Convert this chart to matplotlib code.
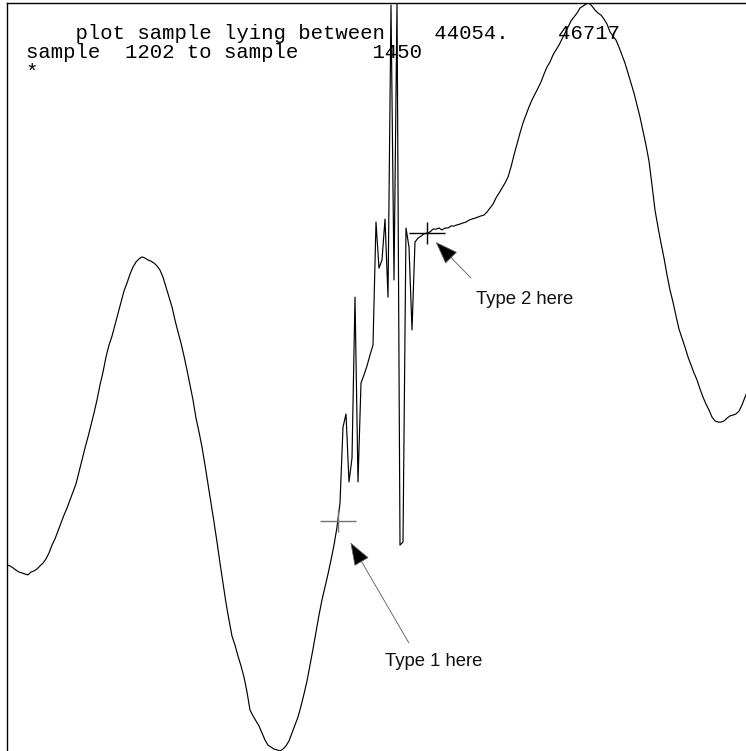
import numpy as np
import matplotlib
matplotlib.use("Agg")
import matplotlib.pyplot as plt

# trace window
first_sample, last_sample = 1202, 1450
lo_val, hi_val = 44054, 46717

# amplitude per sample, starting at sample 1202
amp = np.array([
    44716, 44713, 44706, 44698, 44691, 44688, 44684, 44681, 44691, 44695,
    44702, 44713, 44723, 44738, 44759, 44787, 44809, 44837, 44866, 44894,
    44919, 44948, 44976, 45005, 45047, 45090, 45133, 45172, 45215, 45257,
    45304, 45357, 45403, 45457, 45499, 45531, 45571, 45610, 45652, 45692,
    45720, 45752, 45777, 45795, 45806, 45813, 45809, 45802, 45798, 45791,
    45781, 45766, 45741, 45706, 45670, 45635, 45588, 45546, 45506, 45460,
    45410, 45357, 45304, 45239, 45190, 45136, 45072, 45005, 44937, 44869,
    44798, 44723, 44652, 44581, 44520, 44463, 44431, 44392, 44357, 44317,
    44264, 44200, 44179, 44161, 44143, 44118, 44093, 44075, 44068, 44061,
    44058, 44054, 44061, 44072, 44090, 44118, 44147, 44175, 44214, 44257,
    44303, 44360, 44417, 44478, 44538, 44592, 44638, 44684, 44734, 44787,
    44851, 44937, 45207, 45254, 45012, 45097, 45670, 45012, 45364, 45393,
    45425, 45464, 45499, 45937, 45773, 45802, 45948, 45670, 46710, 45731,
    46717, 44787, 44798, 45916, 45848, 45553, 45866, 45880, 45887, 45895,
    45898, 45902, 45912, 45912, 45916, 45909, 45916, 45916, 45923, 45923,
    45927, 45930, 45934, 45937, 45944, 45948, 45951, 45955, 45959, 45962,
    45973, 45987, 46001, 46023, 46040, 46058, 46076, 46097, 46133, 46176,
    46215, 46254, 46290, 46318, 46347, 46372, 46393, 46414, 46436, 46464,
    46489, 46507, 46532, 46550, 46567, 46589, 46610, 46631, 46653, 46667,
    46681, 46699, 46706, 46713, 46717, 46706, 46692, 46681, 46674, 46660,
    46642, 46614, 46599, 46585, 46560, 46532, 46503, 46468, 46432, 46396,
    46354, 46311, 46261, 46211, 46154, 46069, 45980, 45919, 45862, 45809,
    45749, 45695, 45652, 45603, 45556, 45524, 45492, 45457, 45428, 45400,
    45375, 45343, 45314, 45289, 45268, 45243, 45229, 45225, 45225, 45229,
    45239, 45247, 45250, 45254, 45264, 45286, 45314, 45339,
])
samples = np.arange(first_sample, first_sample + len(amp))

# picked points (type 1, type 2)
pick_sample = [1312.3, 1342.0]
pick_value = [44873, 45898]
pick_label = ["Type 1 here", "Type 2 here"]

W, H = 746, 751
fig = plt.figure(figsize=(W / 100, H / 100), dpi=100)
ax = fig.add_axes([7 / W, 0, 739 / W, 748 / H])
ax.set_xlim(first_sample, first_sample + 739 / 3)
ax.set_ylim(lo_val, hi_val)
ax.set_xticks([])
ax.set_yticks([])
for side in ("right", "bottom"):
    ax.spines[side].set_visible(False)
for side in ("left", "top"):
    ax.spines[side].set_linewidth(1.0)

ax.plot(samples, amp, color="black", lw=0.85)

# cursor crosses
cross_col = ["0.45", "black"]
for s, v, c in zip(pick_sample, pick_value, cross_col):
    ax.plot(s, v, marker="_", ms=26, mew=1.0, color=c)
    ax.plot(s, v, marker="|", ms=16.5, mew=1.0, color=c)

# arrows + labels (offsets in points from the cross)
tails = [(51.1, -87.8), (31.7, -32.4)]
shrink = [18, 9]
label_pos = [(69.1, -101.5), (70.6, -47.5)]
for s, v, lab, t, sb, lp in zip(pick_sample, pick_value, pick_label, tails, shrink, label_pos):
    ax.annotate("", xy=(s, v), xytext=t, textcoords="offset points",
                arrowprops=dict(arrowstyle="-|>,head_length=0.74,head_width=0.27",
                                mutation_scale=20, shrinkA=0, shrinkB=sb,
                                facecolor="black", edgecolor="0.35", lw=0.6))
    ax.annotate(lab, xy=(s, v), xytext=lp, textcoords="offset points",
                ha="center", va="center", family="Liberation Sans",
                fontsize=13.3, color="#111111")

# header lines
mono = dict(family="Liberation Mono", fontsize=14.9, va="baseline",
            transform=fig.dpi_scale_trans, color="black")
header = [
    f"    plot sample lying between    {lo_val}.    {hi_val}",
    f"sample  {first_sample} to sample      {last_sample}",
    "*",
]
for i, line in enumerate(header):
    fig.text(25.5 / 100, (H - 39 - 19.5 * i) / 100, line, **mono)

fig.savefig("out.png", dpi=100)
